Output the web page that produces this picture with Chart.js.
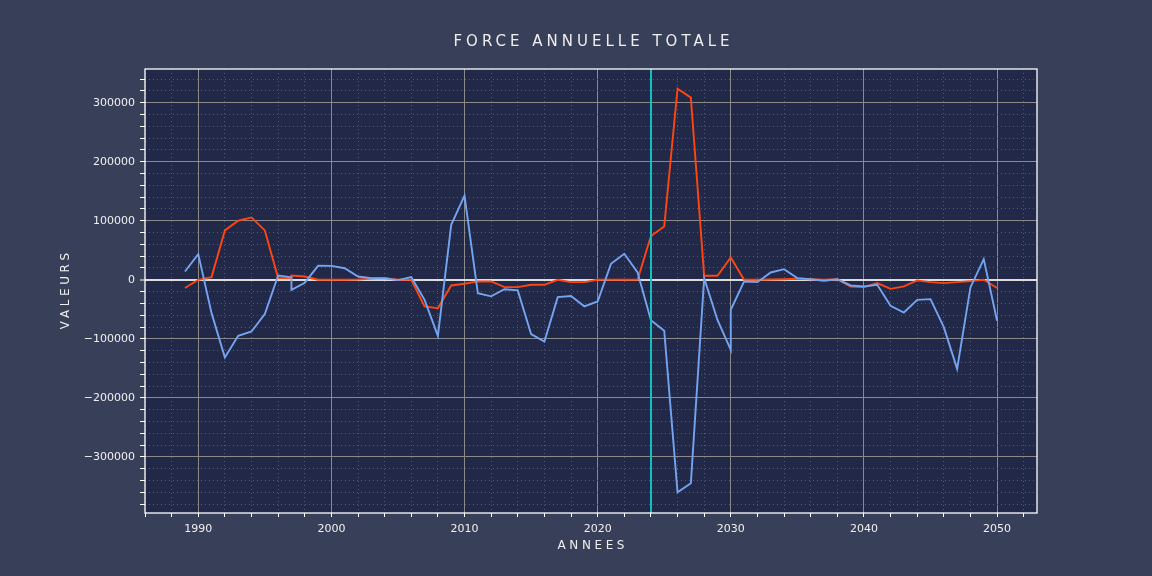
<!DOCTYPE html>
<html lang="fr">
<head>
<meta charset="utf-8">
<title>Force annuelle totale</title>
<script src="https://cdn.jsdelivr.net/npm/chart.js@4"></script>
<style>
  html, body { margin: 0; padding: 0; background: #383f59; }
  #conteneur { width: 1152px; height: 576px; }
</style>
</head>
<body>
<div id="conteneur"><canvas id="graphique" width="1152" height="576"></canvas></div>
<script>
// Années (1997 et 2030 apparaissent deux fois dans les données)
const annees = [
  1989, 1990, 1991, 1992, 1993, 1994, 1995, 1996, 1997, 1997, 1998, 1999,
  2000, 2001, 2002, 2003, 2004, 2005, 2006, 2007, 2008, 2009, 2010, 2011,
  2012, 2013, 2014, 2015, 2016, 2017, 2018, 2019, 2020, 2021, 2022, 2023,
  2024, 2025, 2026, 2027, 2028, 2029, 2030, 2030, 2031, 2032, 2033, 2034,
  2035, 2036, 2037, 2038, 2039, 2040, 2041, 2042, 2043, 2044, 2045, 2046,
  2047, 2048, 2049, 2050
];

const serieBleue = [
  14000, 43500, -56500, -131700, -95000, -87600, -58000, 7300, 4000, -17000, -5000, 23700,
  23500, 19500, 5600, 2800, 2500, -500, 4500, -34000, -95000, 93000, 142500, -22600,
  -28000, -16000, -18000, -92000, -104500, -29400, -27500, -45000, -36700, 27000, 44000, 12400,
  -68500, -86400, -360000, -344600, 2800, -68000, -118600, -50800, -2800, -4000, 12400, 18000,
  2800, 1000, -1700, 1000, -9600, -11300, -8500, -44000, -55400, -34000, -32800, -80200,
  -150800, -13000, 35000, -69500
];

const serieOrange = [
  -14000, 0, 4500, 83600, 100000, 105600, 83600, 2800, 2800, 7300, 5600, 0,
  0, 0, 500, 2000, 2800, 0, 0, -45000, -48000, -9600, -6800, -2800,
  -2800, -12400, -12400, -8500, -8500, 0, -4000, -4000, 0, 0, 0, 0,
  74000, 90400, 323500, 308500, 6800, 6800, 37800, 37800, 0, 0, 500, 1000,
  1700, 1000, 0, 1000, -11300, -12400, -5600, -15300, -11300, -1100, -4000, -5600,
  -4000, -2200, 0, -14000
];

const anneeRepere = 2024;
const titre = "FORCE ANNUELLE TOTALE";
const titreX = "ANNEES";
const titreY = "VALEURS";

// Graduations : majeures tous les 100000 / 10 ans, mineures tous les 20000 / 2 ans
const pasMajeurY = 100000;
const pasMineurY = 20000;
const pasMajeurX = 10;
const pasMineurX = 2;

const police = "DejaVu Sans";
const couleurGrilleMajeure = "#8a8a8a";
const couleurGrilleMineure = "#5b5e55";

function versPoints(serie) {
  return annees.map((a, i) => ({ x: a, y: serie[i] }));
}

// Liste des graduations entre min et max (multiples du pas mineur)
function graduations(min, max, pas) {
  const liste = [];
  for (let v = Math.ceil(min / pas) * pas; v <= max; v += pas) {
    liste.push({ value: v });
  }
  return liste;
}

// Fond, ligne verticale, cadre et titres espacés
const decorPlugin = {
  id: "decor",
  beforeDraw(chart) {
    const { ctx, chartArea: a } = chart;
    ctx.save();
    ctx.fillStyle = "#383f59";
    ctx.fillRect(0, 0, chart.width, chart.height);
    ctx.fillStyle = "#222948";
    ctx.fillRect(a.left, a.top, a.right - a.left, a.bottom - a.top);
    ctx.restore();
  },
  afterDatasetsDraw(chart) {
    const { ctx, chartArea: a } = chart;
    const x = Math.round(chart.scales.x.getPixelForValue(anneeRepere));
    ctx.save();
    ctx.strokeStyle = "#16bfbf";
    ctx.lineWidth = 2;
    ctx.beginPath();
    ctx.moveTo(x, a.top);
    ctx.lineTo(x, a.bottom);
    ctx.stroke();
    ctx.restore();
  },
  afterDraw(chart) {
    const { ctx, chartArea: a } = chart;
    ctx.save();
    ctx.strokeStyle = "#ffffff";
    ctx.lineWidth = 1.3;
    ctx.strokeRect(a.left, a.top, a.right - a.left, a.bottom - a.top);

    ctx.fillStyle = "#eeeeee";
    ctx.textAlign = "center";
    ctx.textBaseline = "alphabetic";

    ctx.font = `15px "${police}"`;
    ctx.letterSpacing = "4px";
    ctx.fillText(titre, 591.5 + 2, 45.5);

    ctx.font = `12px "${police}"`;
    ctx.letterSpacing = "3.6px";
    ctx.fillText(titreX, (a.left + a.right) / 2 + 1.8, 549);

    ctx.translate(68.5, (a.top + a.bottom) / 2);
    ctx.rotate(-Math.PI / 2);
    ctx.fillText(titreY, 1.8, 0);
    ctx.restore();
  }
};

const config = {
  type: "line",
  data: {
    datasets: [
      {
        label: "Série bleue",
        data: versPoints(serieBleue),
        borderColor: "#74a4f0",
        borderWidth: 1.9,
        pointRadius: 0,
        tension: 0,
        fill: false
      },
      {
        label: "Série orange",
        data: versPoints(serieOrange),
        borderColor: "#ff4510",
        borderWidth: 1.9,
        pointRadius: 0,
        tension: 0,
        fill: false
      }
    ]
  },
  options: {
    responsive: false,
    animation: false,
    devicePixelRatio: 1,
    layout: { padding: { top: 69, right: 115, left: 0, bottom: 0 } },
    plugins: {
      legend: { display: false },
      title: { display: false },
      tooltip: { enabled: false }
    },
    scales: {
      x: {
        type: "linear",
        min: 1986,
        max: 2053,
        afterFit: (scale) => { scale.height = 63; },
        afterBuildTicks: (scale) => { scale.ticks = graduations(scale.min, scale.max, pasMineurX); },
        ticks: {
          autoSkip: false,
          maxRotation: 0,
          padding: 6,
          color: "#f0f0f0",
          font: { family: police, size: 11 },
          callback: (v) => (v % pasMajeurX === 0 ? String(v) : "")
        },
        grid: {
          color: (c) => (c.tick && c.tick.value % pasMajeurX === 0 ? couleurGrilleMajeure : couleurGrilleMineure),
          lineWidth: 1,
          tickLength: 4,
          tickColor: "#ffffff",
          tickWidth: 1
        },
        border: {
          display: false,
          dash: (c) => (c.tick && c.tick.value % pasMajeurX === 0 ? [] : [1, 3])
        }
      },
      y: {
        type: "linear",
        min: -395000,
        max: 357000,
        afterFit: (scale) => { scale.width = 145; },
        afterBuildTicks: (scale) => { scale.ticks = graduations(scale.min, scale.max, pasMineurY); },
        ticks: {
          autoSkip: false,
          padding: 5,
          color: "#f0f0f0",
          font: { family: police, size: 11 },
          callback: (v) => (v % pasMajeurY === 0 ? String(v).replace("-", "\u2212") : "")
        },
        grid: {
          color: (c) => {
            if (!c.tick) return couleurGrilleMineure;
            if (c.tick.value === 0) return "#dcdcdc";
            return c.tick.value % pasMajeurY === 0 ? couleurGrilleMajeure : couleurGrilleMineure;
          },
          lineWidth: (c) => (c.tick && c.tick.value === 0 ? 2 : 1),
          tickLength: 5,
          tickColor: "#ffffff",
          tickWidth: 1
        },
        border: {
          display: false,
          dash: (c) => (c.tick && c.tick.value % pasMajeurY === 0 ? [] : [1, 3])
        }
      }
    }
  },
  plugins: [decorPlugin]
};

const graphique = new Chart(document.getElementById("graphique"), config);
</script>
</body>
</html>
